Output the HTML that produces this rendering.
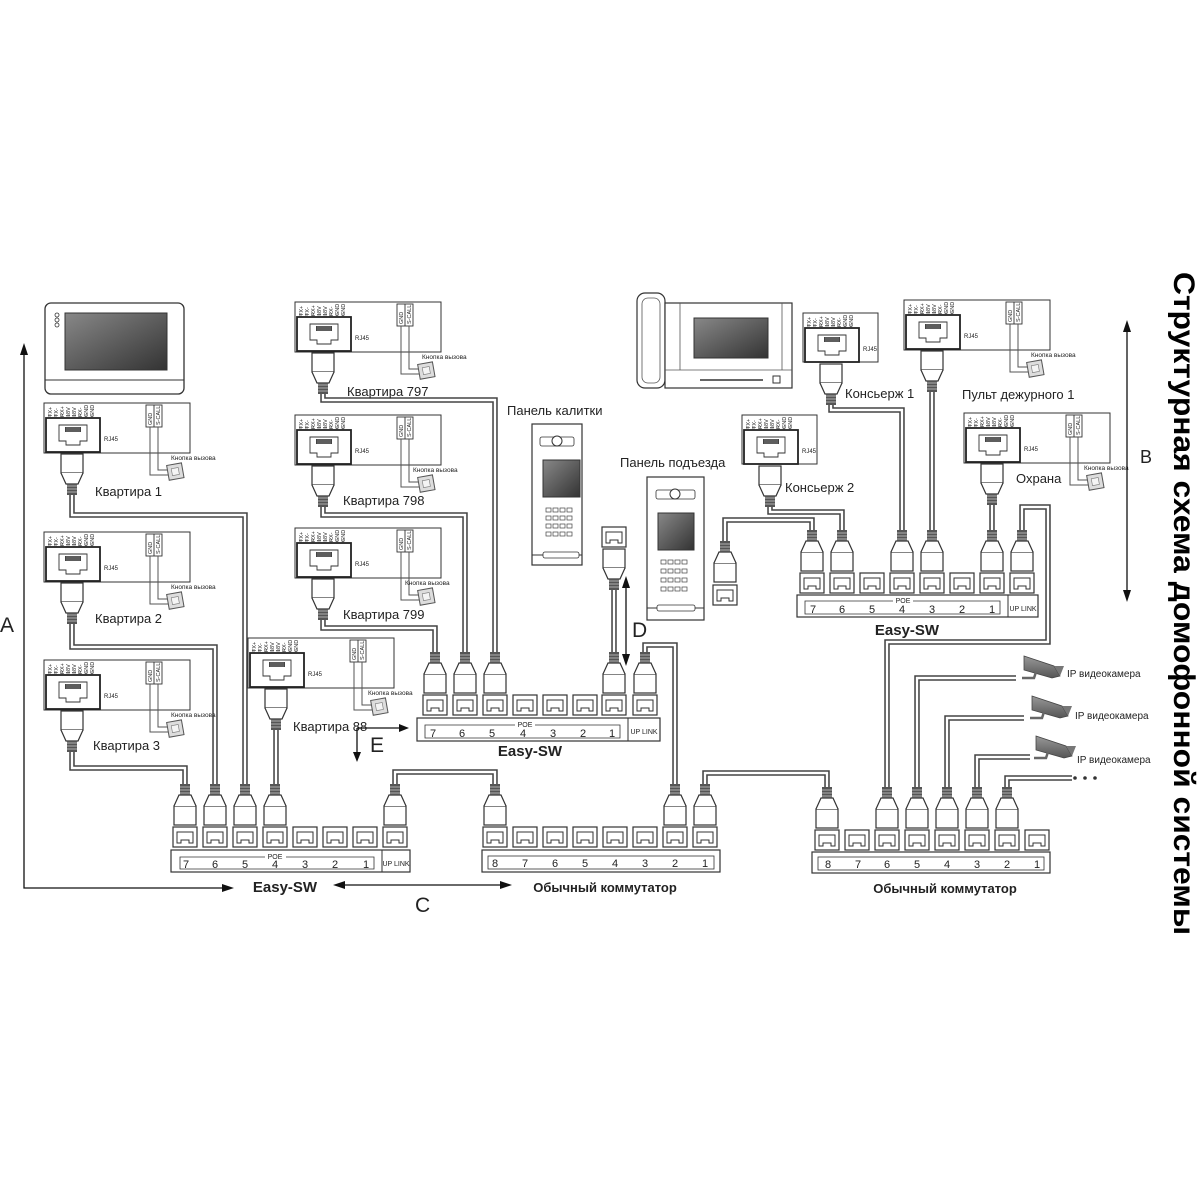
<!DOCTYPE html>
<html><head><meta charset="utf-8"><style>
html,body{margin:0;padding:0;background:#fff}
svg{display:block}
text{font-family:"Liberation Sans",Arial,sans-serif;fill:#222}
.p{font-size:5.5px}
.s{font-size:6px}
.k{font-size:6.5px}
.l{font-size:13px}
.n{font-size:11px}
.b{font-size:15px;font-weight:bold}
.big{font-size:21px}
</style></head><body>
<svg width="1200" height="1200" viewBox="0 0 1200 1200" xmlns="http://www.w3.org/2000/svg">
<defs>
<linearGradient id="scr" x1="0" y1="0" x2="1" y2="1"><stop offset="0" stop-color="#888"/><stop offset="1" stop-color="#333"/></linearGradient>
<linearGradient id="cam" x1="0" y1="0" x2="0" y2="1"><stop offset="0" stop-color="#999"/><stop offset="1" stop-color="#555"/></linearGradient>
<g id="port"><rect x="-12" y="0" width="24" height="20" fill="#fff" stroke="#333" stroke-width="1.2"/><path d="M-8,16 L-8,5 L8,5 L8,16 L4,16 L4,13 L-4,13 L-4,16 Z" fill="none" stroke="#333" stroke-width="1"/></g>
<g id="plug"><rect x="-11" y="-20" width="22" height="19" fill="#fff" stroke="#333" stroke-width="1.2"/><path d="M-11,-20 L-6,-31 L6,-31 L11,-20" fill="#fff" stroke="#333" stroke-width="1.2"/><rect x="-5" y="-42" width="10" height="11" fill="#555"/><path d="M-5,-39 H5 M-5,-36 H5 M-5,-33 H5" stroke="#ccc" stroke-width="0.8"/></g>
<g id="rj"><rect x="2" y="15" width="54" height="34" fill="#fff" stroke="#222" stroke-width="1.8"/><path d="M6,15 V11 M12,15 V11 M18,15 V11 M24,15 V11 M30,15 V11 M36,15 V11 M42,15 V11 M48,15 V11" stroke="#333" stroke-width="0.6"/><path d="M15,22 H43 V38 H36 V42 H22 V38 H15 Z" fill="none" stroke="#333" stroke-width="0.9"/><rect x="21" y="24" width="16" height="5" fill="#444"/><path d="M23,24v5M25,24v5M27,24v5M29,24v5M31,24v5M33,24v5M35,24v5" stroke="#aaa" stroke-width="0.5"/></g>
<g id="modA"><rect x="0" y="0" width="146" height="50" fill="#fff" stroke="#333" stroke-width="1"/><use href="#rj"/><rect x="102" y="2" width="16" height="22" fill="#fff" stroke="#333" stroke-width="0.9"/><path d="M110,2 V24" stroke="#333" stroke-width="0.9"/><path d="M106,24 V72 H125 M114,24 V67 H125" fill="none" stroke="#555" stroke-width="1"/><g transform="translate(126,70) rotate(-10)"><rect x="-2" y="-8" width="15" height="15" fill="#ddd" stroke="#555" stroke-width="1"/><rect x="2" y="-4" width="7" height="7" fill="#f4f4f4" stroke="#777" stroke-width="0.6"/></g></g>
<g id="modB"><rect x="0" y="0" width="75" height="49" fill="#fff" stroke="#333" stroke-width="1"/><use href="#rj"/></g>
<g id="camera"><path d="M0,0 L30,10 L36,20 L28,22 L0,14 Z" fill="url(#cam)" stroke="#444" stroke-width="0.8"/><path d="M30,10 L40,10 L36,20Z" fill="#777"/><path d="M12,16 L10,22 L-2,22" stroke="#666" stroke-width="2.5" fill="none"/></g>
<g id="cables">
<path d="M72,495 V515 H245 V786"/>
<path d="M72,624 V647 H215 V786"/>
<path d="M72,752 V768 H185 V786"/>
<path d="M276,730 V786"/>
<path d="M323,394 V400 H495 V654"/>
<path d="M323,507 V515 H465 V654"/>
<path d="M323,620 V628 H435 V654"/>
<path d="M614,590 V654"/>
<path d="M645,654 V645 H675 V786"/>
<path d="M495,786 V772 H395 V786"/>
<path d="M705,786 V773 H827 V789"/>
<path d="M887,789 V642 H1048 V507 H1022 V532"/>
<path d="M917,789 V678 H1016"/>
<path d="M947,789 V718 H1024"/>
<path d="M977,789 V757 H1030"/>
<path d="M1007,789 V778 H1072"/>
<path d="M725,541 V520 H812 V532"/>
<path d="M770,507 V512 H842 V532"/>
<path d="M831,405 V410 H902 V532"/>
<path d="M932,392 V532"/>
<path d="M992,505 V532"/>
</g>
</defs>

<rect x="0" y="262" width="1200" height="680" fill="#fff"/>

<!-- cables -->
<use href="#cables" fill="none" stroke="#444" stroke-width="5.5"/>
<use href="#cables" fill="none" stroke="#fff" stroke-width="2.4"/>

<!-- left monitor -->
<rect x="45" y="303" width="139" height="91" rx="6" fill="#fff" stroke="#333" stroke-width="1.3"/>
<path d="M45,380 H184" stroke="#333"/>
<rect x="65" y="313" width="102" height="57" fill="url(#scr)" stroke="#333"/>
<circle cx="57" cy="315" r="2" fill="none" stroke="#333" stroke-width="0.8"/><circle cx="57" cy="320" r="2" fill="none" stroke="#333" stroke-width="0.8"/><circle cx="57" cy="325" r="2" fill="none" stroke="#333" stroke-width="0.8"/>

<!-- desk monitor -->
<rect x="637" y="293" width="28" height="95" rx="8" fill="#fff" stroke="#333" stroke-width="1.2"/>
<rect x="642" y="298" width="18" height="85" rx="6" fill="none" stroke="#555" stroke-width="0.8"/>
<rect x="665" y="303" width="127" height="85" fill="#fff" stroke="#333" stroke-width="1.2"/>
<path d="M665,370 H792 M680,303 V370 M782,303 V370" stroke="#555" stroke-width="0.8"/>
<rect x="694" y="318" width="74" height="40" fill="url(#scr)" stroke="#333"/>
<path d="M700,380 H763" stroke="#333" stroke-width="1.5"/><rect x="773" y="376" width="7" height="7" fill="none" stroke="#333"/>

<!-- modules full -->
<g transform="translate(44,403)"><use href="#modA"/><text class="p" transform="translate(0,14) rotate(-90)"><tspan x="0" y="8">TX+</tspan><tspan x="0" y="14">TX-</tspan><tspan x="0" y="20">RX+</tspan><tspan x="0" y="26">18V</tspan><tspan x="0" y="32">18V</tspan><tspan x="0" y="38">RX-</tspan><tspan x="0" y="44">GND</tspan><tspan x="0" y="50">GND</tspan></text><text class="s" x="60" y="38">RJ45</text><text class="p" transform="translate(0,22) rotate(-90)"><tspan x="0" y="108">GND</tspan><tspan x="0" y="116">S-CALL</tspan></text><text class="k" x="127" y="57">Кнопка вызова</text></g>
<g transform="translate(44,532)"><use href="#modA"/><text class="p" transform="translate(0,14) rotate(-90)"><tspan x="0" y="8">TX+</tspan><tspan x="0" y="14">TX-</tspan><tspan x="0" y="20">RX+</tspan><tspan x="0" y="26">18V</tspan><tspan x="0" y="32">18V</tspan><tspan x="0" y="38">RX-</tspan><tspan x="0" y="44">GND</tspan><tspan x="0" y="50">GND</tspan></text><text class="s" x="60" y="38">RJ45</text><text class="p" transform="translate(0,22) rotate(-90)"><tspan x="0" y="108">GND</tspan><tspan x="0" y="116">S-CALL</tspan></text><text class="k" x="127" y="57">Кнопка вызова</text></g>
<g transform="translate(44,660)"><use href="#modA"/><text class="p" transform="translate(0,14) rotate(-90)"><tspan x="0" y="8">TX+</tspan><tspan x="0" y="14">TX-</tspan><tspan x="0" y="20">RX+</tspan><tspan x="0" y="26">18V</tspan><tspan x="0" y="32">18V</tspan><tspan x="0" y="38">RX-</tspan><tspan x="0" y="44">GND</tspan><tspan x="0" y="50">GND</tspan></text><text class="s" x="60" y="38">RJ45</text><text class="p" transform="translate(0,22) rotate(-90)"><tspan x="0" y="108">GND</tspan><tspan x="0" y="116">S-CALL</tspan></text><text class="k" x="127" y="57">Кнопка вызова</text></g>
<g transform="translate(295,302)"><use href="#modA"/><text class="p" transform="translate(0,14) rotate(-90)"><tspan x="0" y="8">TX+</tspan><tspan x="0" y="14">TX-</tspan><tspan x="0" y="20">RX+</tspan><tspan x="0" y="26">18V</tspan><tspan x="0" y="32">18V</tspan><tspan x="0" y="38">RX-</tspan><tspan x="0" y="44">GND</tspan><tspan x="0" y="50">GND</tspan></text><text class="s" x="60" y="38">RJ45</text><text class="p" transform="translate(0,22) rotate(-90)"><tspan x="0" y="108">GND</tspan><tspan x="0" y="116">S-CALL</tspan></text><text class="k" x="127" y="57">Кнопка вызова</text></g>
<g transform="translate(295,415)"><use href="#modA"/><text class="p" transform="translate(0,14) rotate(-90)"><tspan x="0" y="8">TX+</tspan><tspan x="0" y="14">TX-</tspan><tspan x="0" y="20">RX+</tspan><tspan x="0" y="26">18V</tspan><tspan x="0" y="32">18V</tspan><tspan x="0" y="38">RX-</tspan><tspan x="0" y="44">GND</tspan><tspan x="0" y="50">GND</tspan></text><text class="s" x="60" y="38">RJ45</text><text class="p" transform="translate(0,22) rotate(-90)"><tspan x="0" y="108">GND</tspan><tspan x="0" y="116">S-CALL</tspan></text><text class="k" x="118" y="57">Кнопка вызова</text></g>
<g transform="translate(295,528)"><use href="#modA"/><text class="p" transform="translate(0,14) rotate(-90)"><tspan x="0" y="8">TX+</tspan><tspan x="0" y="14">TX-</tspan><tspan x="0" y="20">RX+</tspan><tspan x="0" y="26">18V</tspan><tspan x="0" y="32">18V</tspan><tspan x="0" y="38">RX-</tspan><tspan x="0" y="44">GND</tspan><tspan x="0" y="50">GND</tspan></text><text class="s" x="60" y="38">RJ45</text><text class="p" transform="translate(0,22) rotate(-90)"><tspan x="0" y="108">GND</tspan><tspan x="0" y="116">S-CALL</tspan></text><text class="k" x="110" y="57">Кнопка вызова</text></g>
<g transform="translate(248,638)"><use href="#modA"/><text class="p" transform="translate(0,14) rotate(-90)"><tspan x="0" y="8">TX+</tspan><tspan x="0" y="14">TX-</tspan><tspan x="0" y="20">RX+</tspan><tspan x="0" y="26">18V</tspan><tspan x="0" y="32">18V</tspan><tspan x="0" y="38">RX-</tspan><tspan x="0" y="44">GND</tspan><tspan x="0" y="50">GND</tspan></text><text class="s" x="60" y="38">RJ45</text><text class="p" transform="translate(0,22) rotate(-90)"><tspan x="0" y="108">GND</tspan><tspan x="0" y="116">S-CALL</tspan></text><text class="k" x="120" y="57">Кнопка вызова</text></g>
<g transform="translate(904,300)"><use href="#modA"/><text class="p" transform="translate(0,14) rotate(-90)"><tspan x="0" y="8">TX+</tspan><tspan x="0" y="14">TX-</tspan><tspan x="0" y="20">RX+</tspan><tspan x="0" y="26">18V</tspan><tspan x="0" y="32">18V</tspan><tspan x="0" y="38">RX-</tspan><tspan x="0" y="44">GND</tspan><tspan x="0" y="50">GND</tspan></text><text class="s" x="60" y="38">RJ45</text><text class="p" transform="translate(0,22) rotate(-90)"><tspan x="0" y="108">GND</tspan><tspan x="0" y="116">S-CALL</tspan></text><text class="k" x="127" y="57">Кнопка вызова</text></g>
<g transform="translate(964,413)"><use href="#modA"/><text class="p" transform="translate(0,14) rotate(-90)"><tspan x="0" y="8">TX+</tspan><tspan x="0" y="14">TX-</tspan><tspan x="0" y="20">RX+</tspan><tspan x="0" y="26">18V</tspan><tspan x="0" y="32">18V</tspan><tspan x="0" y="38">RX-</tspan><tspan x="0" y="44">GND</tspan><tspan x="0" y="50">GND</tspan></text><text class="s" x="60" y="38">RJ45</text><text class="p" transform="translate(0,22) rotate(-90)"><tspan x="0" y="108">GND</tspan><tspan x="0" y="116">S-CALL</tspan></text><text class="k" x="120" y="57">Кнопка вызова</text></g>
<!-- small modules -->
<g transform="translate(803,313)"><use href="#modB"/><text class="p" transform="translate(0,14) rotate(-90)"><tspan x="0" y="8">TX+</tspan><tspan x="0" y="14">TX-</tspan><tspan x="0" y="20">RX+</tspan><tspan x="0" y="26">18V</tspan><tspan x="0" y="32">18V</tspan><tspan x="0" y="38">RX-</tspan><tspan x="0" y="44">GND</tspan><tspan x="0" y="50">GND</tspan></text><text class="s" x="60" y="38">RJ45</text></g>
<g transform="translate(742,415)"><use href="#modB"/><text class="p" transform="translate(0,14) rotate(-90)"><tspan x="0" y="8">TX+</tspan><tspan x="0" y="14">TX-</tspan><tspan x="0" y="20">RX+</tspan><tspan x="0" y="26">18V</tspan><tspan x="0" y="32">18V</tspan><tspan x="0" y="38">RX-</tspan><tspan x="0" y="44">GND</tspan><tspan x="0" y="50">GND</tspan></text><text class="s" x="60" y="38">RJ45</text></g>

<!-- module plugs (flipped) -->
<use href="#plug" transform="translate(72,453) scale(1,-1)"/>
<use href="#plug" transform="translate(72,582) scale(1,-1)"/>
<use href="#plug" transform="translate(72,710) scale(1,-1)"/>
<use href="#plug" transform="translate(323,352) scale(1,-1)"/>
<use href="#plug" transform="translate(323,465) scale(1,-1)"/>
<use href="#plug" transform="translate(323,578) scale(1,-1)"/>
<use href="#plug" transform="translate(276,688) scale(1,-1)"/>
<use href="#plug" transform="translate(932,350) scale(1,-1)"/>
<use href="#plug" transform="translate(992,463) scale(1,-1)"/>
<use href="#plug" transform="translate(831,363) scale(1,-1)"/>
<use href="#plug" transform="translate(770,465) scale(1,-1)"/>
<use href="#plug" transform="translate(614,548) scale(1,-1)"/>

<!-- module labels -->
<text class="l" x="95" y="496">Квартира 1</text>
<text class="l" x="95" y="623">Квартира 2</text>
<text class="l" x="93" y="750">Квартира 3</text>
<text class="l" x="347" y="396">Квартира 797</text>
<text class="l" x="343" y="505">Квартира 798</text>
<text class="l" x="343" y="619">Квартира 799</text>
<text class="l" x="293" y="731">Квартира 88</text>
<text class="l" x="845" y="398">Консьерж 1</text>
<text class="l" x="962" y="399">Пульт дежурного 1</text>
<text class="l" x="785" y="492">Консьерж 2</text>
<text class="l" x="1016" y="483">Охрана</text>

<!-- panels -->
<text class="l" x="507" y="415">Панель калитки</text>
<rect x="532" y="424" width="50" height="141" fill="#fff" stroke="#333" stroke-width="1.2"/>
<rect x="540" y="437" width="34" height="9" rx="2" fill="#fff" stroke="#333" stroke-width="0.8"/><circle cx="557" cy="441" r="5" fill="#fff" stroke="#333"/>
<rect x="543" y="460" width="37" height="37" fill="url(#scr)" stroke="#333"/>
<g fill="#fff" stroke="#444" stroke-width="0.7"><rect x="546" y="508" width="5" height="4"/><rect x="553" y="508" width="5" height="4"/><rect x="560" y="508" width="5" height="4"/><rect x="567" y="508" width="5" height="4"/><rect x="546" y="516" width="5" height="4"/><rect x="553" y="516" width="5" height="4"/><rect x="560" y="516" width="5" height="4"/><rect x="567" y="516" width="5" height="4"/><rect x="546" y="524" width="5" height="4"/><rect x="553" y="524" width="5" height="4"/><rect x="560" y="524" width="5" height="4"/><rect x="567" y="524" width="5" height="4"/><rect x="546" y="532" width="5" height="4"/><rect x="553" y="532" width="5" height="4"/><rect x="560" y="532" width="5" height="4"/><rect x="567" y="532" width="5" height="4"/></g>
<path d="M532,555 H582" stroke="#333"/><rect x="543" y="552" width="36" height="6" rx="2" fill="#fff" stroke="#333" stroke-width="0.8"/>

<text class="l" x="620" y="467">Панель подъезда</text>
<rect x="647" y="477" width="57" height="143" fill="#fff" stroke="#333" stroke-width="1.2"/>
<rect x="656" y="490" width="39" height="9" rx="2" fill="#fff" stroke="#333" stroke-width="0.8"/><circle cx="675" cy="494" r="5" fill="#fff" stroke="#333"/>
<rect x="658" y="513" width="36" height="37" fill="url(#scr)" stroke="#333"/>
<g fill="#fff" stroke="#444" stroke-width="0.7"><rect x="661" y="560" width="5" height="4"/><rect x="668" y="560" width="5" height="4"/><rect x="675" y="560" width="5" height="4"/><rect x="682" y="560" width="5" height="4"/><rect x="661" y="569" width="5" height="4"/><rect x="668" y="569" width="5" height="4"/><rect x="675" y="569" width="5" height="4"/><rect x="682" y="569" width="5" height="4"/><rect x="661" y="578" width="5" height="4"/><rect x="668" y="578" width="5" height="4"/><rect x="675" y="578" width="5" height="4"/><rect x="682" y="578" width="5" height="4"/><rect x="661" y="587" width="5" height="4"/><rect x="668" y="587" width="5" height="4"/><rect x="675" y="587" width="5" height="4"/><rect x="682" y="587" width="5" height="4"/></g>
<path d="M647,608 H704" stroke="#333"/><rect x="657" y="605" width="38" height="6" rx="2" fill="#fff" stroke="#333" stroke-width="0.8"/>

<!-- loose ports -->
<use href="#port" x="614" y="527"/>
<use href="#port" x="725" y="585"/>
<use href="#plug" x="725" y="583"/>

<!-- Left Easy-SW -->
<g><use href="#port" x="185" y="827"/><use href="#port" x="215" y="827"/><use href="#port" x="245" y="827"/><use href="#port" x="275" y="827"/><use href="#port" x="305" y="827"/><use href="#port" x="335" y="827"/><use href="#port" x="365" y="827"/><use href="#port" x="395" y="827"/>
<use href="#plug" x="185" y="826"/><use href="#plug" x="215" y="826"/><use href="#plug" x="245" y="826"/><use href="#plug" x="275" y="826"/><use href="#plug" x="395" y="826"/>
<rect x="171" y="850" width="239" height="22" fill="#fff" stroke="#333" stroke-width="1.2"/><path d="M382,850 V872" stroke="#333"/>
<path d="M265,857 H180 V869 H374 V857 H286" fill="none" stroke="#333" stroke-width="0.8"/><text class="p" x="275" y="859" text-anchor="middle" style="font-size:7px">POE</text>
<g class="n" text-anchor="middle"><text x="186" y="868">7</text><text x="215" y="868">6</text><text x="245" y="868">5</text><text x="275" y="868">4</text><text x="305" y="868">3</text><text x="335" y="868">2</text><text x="366" y="868">1</text></g>
<text x="396" y="866" text-anchor="middle" style="font-size:7px">UP LINK</text>
<text class="b" x="285" y="892" text-anchor="middle">Easy-SW</text></g>

<!-- Middle Easy-SW -->
<g><use href="#port" x="435" y="695"/><use href="#port" x="465" y="695"/><use href="#port" x="495" y="695"/><use href="#port" x="525" y="695"/><use href="#port" x="555" y="695"/><use href="#port" x="585" y="695"/><use href="#port" x="614" y="695"/><use href="#port" x="645" y="695"/>
<use href="#plug" x="435" y="694"/><use href="#plug" x="465" y="694"/><use href="#plug" x="495" y="694"/><use href="#plug" x="614" y="694"/><use href="#plug" x="645" y="694"/>
<rect x="417" y="718" width="243" height="23" fill="#fff" stroke="#333" stroke-width="1.2"/><path d="M628,718 V741" stroke="#333"/>
<path d="M515,725 H425 V738 H620 V725 H535" fill="none" stroke="#333" stroke-width="0.8"/><text x="525" y="727" text-anchor="middle" style="font-size:7px">POE</text>
<g class="n" text-anchor="middle"><text x="433" y="737">7</text><text x="462" y="737">6</text><text x="492" y="737">5</text><text x="523" y="737">4</text><text x="553" y="737">3</text><text x="583" y="737">2</text><text x="612" y="737">1</text></g>
<text x="644" y="734" text-anchor="middle" style="font-size:7px">UP LINK</text>
<text class="b" x="530" y="756" text-anchor="middle">Easy-SW</text></g>

<!-- Right-top Easy-SW -->
<g><use href="#port" x="812" y="573"/><use href="#port" x="842" y="573"/><use href="#port" x="872" y="573"/><use href="#port" x="902" y="573"/><use href="#port" x="932" y="573"/><use href="#port" x="962" y="573"/><use href="#port" x="992" y="573"/><use href="#port" x="1022" y="573"/>
<use href="#plug" x="812" y="572"/><use href="#plug" x="842" y="572"/><use href="#plug" x="902" y="572"/><use href="#plug" x="932" y="572"/><use href="#plug" x="992" y="572"/><use href="#plug" x="1022" y="572"/>
<rect x="797" y="595" width="241" height="22" fill="#fff" stroke="#333" stroke-width="1.2"/><path d="M1008,595 V617" stroke="#333"/>
<path d="M893,601 H805 V614 H1000 V601 H913" fill="none" stroke="#333" stroke-width="0.8"/><text x="903" y="603" text-anchor="middle" style="font-size:7px">POE</text>
<g class="n" text-anchor="middle"><text x="813" y="613">7</text><text x="842" y="613">6</text><text x="872" y="613">5</text><text x="902" y="613">4</text><text x="932" y="613">3</text><text x="962" y="613">2</text><text x="992" y="613">1</text></g>
<text x="1023" y="611" text-anchor="middle" style="font-size:7px">UP LINK</text>
<text class="b" x="907" y="635" text-anchor="middle">Easy-SW</text></g>

<!-- Bottom-mid switch -->
<g><use href="#port" x="495" y="827"/><use href="#port" x="525" y="827"/><use href="#port" x="555" y="827"/><use href="#port" x="585" y="827"/><use href="#port" x="615" y="827"/><use href="#port" x="645" y="827"/><use href="#port" x="675" y="827"/><use href="#port" x="705" y="827"/>
<use href="#plug" x="495" y="826"/><use href="#plug" x="675" y="826"/><use href="#plug" x="705" y="826"/>
<rect x="482" y="850" width="238" height="22" fill="#fff" stroke="#333" stroke-width="1.2"/>
<rect x="488" y="856" width="226" height="13" fill="none" stroke="#333" stroke-width="0.8"/>
<g class="n" text-anchor="middle"><text x="495" y="867">8</text><text x="525" y="867">7</text><text x="555" y="867">6</text><text x="585" y="867">5</text><text x="615" y="867">4</text><text x="645" y="867">3</text><text x="675" y="867">2</text><text x="705" y="867">1</text></g>
<text class="b" x="605" y="892" text-anchor="middle" style="font-size:13px">Обычный коммутатор</text></g>

<!-- Bottom-right switch -->
<g><use href="#port" x="827" y="830"/><use href="#port" x="857" y="830"/><use href="#port" x="887" y="830"/><use href="#port" x="917" y="830"/><use href="#port" x="947" y="830"/><use href="#port" x="977" y="830"/><use href="#port" x="1007" y="830"/><use href="#port" x="1037" y="830"/>
<use href="#plug" x="827" y="829"/><use href="#plug" x="887" y="829"/><use href="#plug" x="917" y="829"/><use href="#plug" x="947" y="829"/><use href="#plug" x="977" y="829"/><use href="#plug" x="1007" y="829"/>
<rect x="812" y="852" width="238" height="21" fill="#fff" stroke="#333" stroke-width="1.2"/>
<rect x="818" y="857" width="226" height="13" fill="none" stroke="#333" stroke-width="0.8"/>
<g class="n" text-anchor="middle"><text x="828" y="868">8</text><text x="858" y="868">7</text><text x="887" y="868">6</text><text x="917" y="868">5</text><text x="947" y="868">4</text><text x="977" y="868">3</text><text x="1007" y="868">2</text><text x="1037" y="868">1</text></g>
<text class="b" x="945" y="893" text-anchor="middle" style="font-size:13px">Обычный коммутатор</text></g>

<!-- cameras -->
<use href="#camera" x="1024" y="656"/>
<use href="#camera" x="1032" y="696"/>
<use href="#camera" x="1036" y="736"/>
<text x="1067" y="677" style="font-size:10px">IP видеокамера</text>
<text x="1075" y="719" style="font-size:10px">IP видеокамера</text>
<text x="1077" y="763" style="font-size:10px">IP видеокамера</text>
<circle cx="1075" cy="778" r="1.8" fill="#333"/><circle cx="1085" cy="778" r="1.8" fill="#333"/><circle cx="1095" cy="778" r="1.8" fill="#333"/>

<!-- arrows -->
<g stroke="#111" stroke-width="1.3" fill="none">
<path d="M24,352 V888 H226"/>
<path d="M340,885 H505"/>
<path d="M626,585 V658"/>
<path d="M1127,328 V594"/>
<path d="M357,728 V756 M357,728 H402"/>
</g>
<g fill="#111">
<path d="M24,343 L20,355 L28,355Z"/>
<path d="M234,888 L222,884 L222,892Z"/>
<path d="M333,885 L345,881 L345,889Z"/>
<path d="M512,885 L500,881 L500,889Z"/>
<path d="M626,576 L622,588 L630,588Z"/>
<path d="M626,666 L622,654 L630,654Z"/>
<path d="M1127,320 L1123,332 L1131,332Z"/>
<path d="M1127,602 L1123,590 L1131,590Z"/>
<path d="M357,762 L353,752 L361,752Z"/>
<path d="M409,728 L399,724 L399,732Z"/>
</g>
<text class="big" x="0" y="632">A</text>
<text class="big" x="415" y="912">C</text>
<text class="big" x="632" y="637">D</text>
<text class="big" x="370" y="752">E</text>
<text class="big" x="1140" y="463" style="font-size:18px">B</text>

<!-- title -->
<text transform="translate(1174,272) rotate(90)" style="font-size:30px;font-weight:bold;fill:#000" textLength="663" lengthAdjust="spacingAndGlyphs">Структурная схема домофонной системы</text>
</svg>
</body></html>
